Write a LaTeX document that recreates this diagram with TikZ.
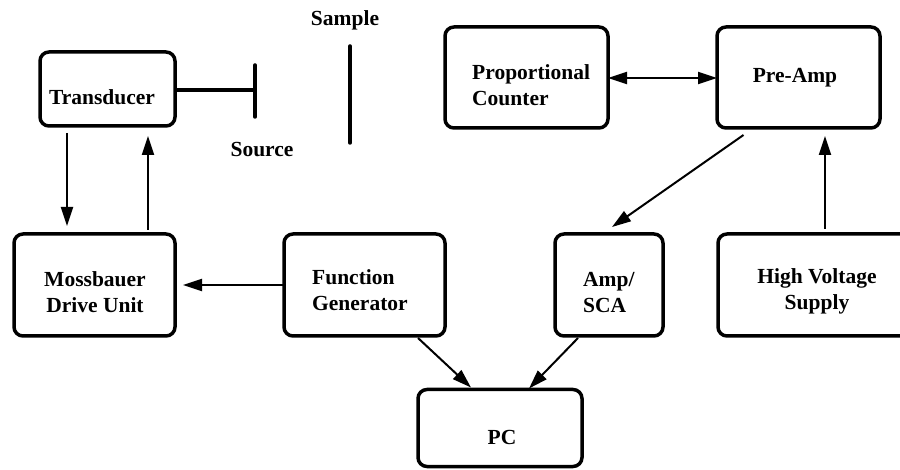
\documentclass[tikz,border=0pt]{standalone}
\usepackage{fontspec}
\setmainfont{Liberation Serif}
\usetikzlibrary{arrows.meta}
\begin{document}
\begin{tikzpicture}[x=1pt,y=-1pt,
  box/.style={draw,line width=3.5pt,rounded corners=9pt,inner sep=0pt,outer sep=0pt},
  lbl/.style={font=\fontsize{21.5}{26}\selectfont\bfseries,inner sep=0pt},
  tip/.tip={Triangle[length=19pt,width=12pt]},
  arr/.style={line width=2pt,-tip},
  bar/.style={line width=3.5pt,line cap=round}]
\useasboundingbox (0,0) rectangle (900,470);
% boxes
\node[box,minimum width=135pt,minimum height=74pt] (T) at (107.5,89) {};
\node[box,minimum width=163pt,minimum height=101pt] (PC1) at (526.5,77.5) {};
\node[box,minimum width=163pt,minimum height=101pt] (PA) at (798.5,77.5) {};
\node[box,minimum width=161pt,minimum height=102pt] (MD) at (94.5,285) {};
\node[box,minimum width=161pt,minimum height=102pt] (FG) at (364.5,285) {};
\node[box,minimum width=108pt,minimum height=102pt] (AS) at (609,285) {};
\node[box,minimum width=196pt,minimum height=102pt] (HV) at (816,285) {};
\node[box,minimum width=164pt,minimum height=77pt] (PC) at (500,428) {};
% texts
\node[lbl] (tT) at (102,97) {Transducer};
\node[lbl,align=left,anchor=west] (tPC1) at (472,85) {Proportional\\Counter};
\node[lbl] (tPA) at (795,78) {Pre-Amp};
\node[lbl,align=center] (tMD) at (95,292) {Mossbauer\\Drive Unit};
\node[lbl,align=left,anchor=west] (tFG) at (312,290) {Function\\Generator};
\node[lbl,align=left,anchor=west] (tAS) at (583,293) {Amp/\\SCA};
\node[lbl,align=center] (tHV) at (817,291) {High Voltage\\Supply};
\node[lbl] (tPC) at (502,437) {PC};
\node[lbl] (tSa) at (345,20) {Sample};
\node[lbl] (tSo) at (262,150) {Source};
% source and sample
\coordinate (S1) at (255,90);
\coordinate (Stop) at (255,65);
\coordinate (Sbot) at (255,117);
\coordinate (Q1) at (350,46);
\coordinate (Q2) at (350,143);
\draw[line width=3.5pt] (T.east |- S1) -- (S1);
\draw[bar] (Stop) -- (Sbot);
\draw[bar] (Q1) -- (Q2);
% connectors
\draw[arr] ([xshift=-40.5pt,yshift=-7pt]T.south) -- ([xshift=-27.5pt,yshift=8pt]MD.north);
\draw[arr] ([xshift=53.5pt,yshift=4pt]MD.north) -- ([xshift=40.5pt,yshift=-10pt]T.south);
\draw[arr] (FG.west) -- ([xshift=8pt]MD.east);
\draw[arr] ([xshift=-27pt,yshift=-2pt]FG.south east) -- ([xshift=53pt,yshift=2pt]PC.north west);
\draw[arr] ([xshift=-31pt,yshift=-2pt]AS.south) -- ([xshift=-53pt,yshift=1pt]PC.north east);
\draw[arr] ([xshift=-55pt,yshift=-7pt]PA.south) -- ([xshift=3pt,yshift=7pt]AS.north);
\draw[arr] ([xshift=9pt,yshift=5pt]HV.north) -- ([xshift=26.5pt,yshift=-8pt]PA.south);
\draw[line width=2pt,tip-tip] ([yshift=-0.5pt]PC1.east) -- ([yshift=-0.5pt]PA.west);
\end{tikzpicture}
\end{document}
